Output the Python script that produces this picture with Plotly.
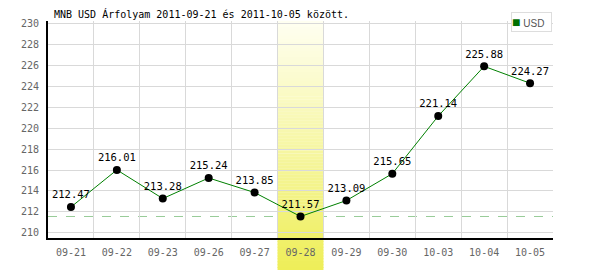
import plotly.graph_objects as go

# ---- data ----
dates = ["09-21", "09-22", "09-23", "09-26", "09-27", "09-28",
         "09-29", "09-30", "10-03", "10-04", "10-05"]
usd = [212.47, 216.01, 213.28, 215.24, 213.85, 211.57,
       213.09, 215.65, 221.14, 225.88, 224.27]
value_labels = [f"{v:.2f}" for v in usd]
highlight_date = "09-28"
series_name = "USD"
title_text = "MNB USD Árfolyam 2011-09-21 és 2011-10-05 között."
y_ticks = list(range(210, 231, 2))

# ---- layout geometry (pixels) ----
W, H = 600, 270
ML, MR, MT, MB = 48, 47, 21, 32
plot_h = H - MT - MB

fig = go.Figure()

fig.add_trace(go.Scatter(
    x=dates, y=usd, mode="lines+markers+text",
    text=value_labels, textposition="top center",
    textfont=dict(family="DejaVu Sans Mono", size=10.5, color="#000000"),
    line=dict(color="#008000", width=1),
    marker=dict(color="#000000", size=8),
    showlegend=False, cliponaxis=False,
))

shapes = []
# dashed minimum line
shapes.append(dict(type="line", xref="paper", x0=0, x1=1, yref="y",
                   y0=min(usd), y1=min(usd),
                   line=dict(color="#98cc98", width=1, dash="dash"),
                   layer="between"))

# gradient highlight band
hi = dates.index(highlight_date)
top_c = (255, 255, 242)
bot_c = (238, 238, 88)
def col(py):
    f = (py - MT) / (H - MT)
    f = max(0, min(1, f))
    c = [round(top_c[i] + (bot_c[i] - top_c[i]) * f) for i in range(3)]
    return f"rgb({c[0]},{c[1]},{c[2]})"

def to_paper(py):
    return (H - MB - py) / plot_h

n_in = 72
for k in range(n_in):
    p0 = MT + plot_h * k / n_in
    p1 = MT + plot_h * (k + 1) / n_in
    shapes.append(dict(type="rect", xref="x", x0=hi - 0.5, x1=hi + 0.5,
                       yref="paper", y0=to_paper(p1), y1=to_paper(p0) + 0.001,
                       fillcolor=col((p0 + p1) / 2), line=dict(width=0),
                       layer="between"))
n_out = 11
for k in range(n_out):
    p0 = H - MB + MB * k / n_out
    p1 = H - MB + MB * (k + 1) / n_out
    shapes.append(dict(type="rect", xref="x", x0=hi - 0.5, x1=hi + 0.5,
                       yref="paper", y0=to_paper(p1 + 1), y1=to_paper(p0),
                       fillcolor=col((p0 + p1) / 2), line=dict(width=0),
                       layer="below"))

annotations = [
    dict(text=title_text, xref="paper", yref="paper",
         x=0, xshift=4, xanchor="left",
         y=to_paper(14.5), yanchor="middle", showarrow=False,
         font=dict(family="DejaVu Sans Mono", size=10, color="#000000")),
    dict(text=f"<span style='color:#007000;font-size:14px'>■</span> {series_name}",
         xref="paper", yref="paper",
         x=(531.5 - ML) / (W - ML - MR), y=to_paper(21.7),
         xanchor="center", yanchor="middle", showarrow=False,
         width=39, height=18, align="left",
         bgcolor="#ffffff", bordercolor="#dddddd", borderwidth=1, borderpad=0,
         font=dict(family="Liberation Sans", size=10, color="#555555")),
]

fig.update_layout(
    width=W, height=H,
    margin=dict(l=ML, r=MR, t=MT, b=MB, pad=0),
    paper_bgcolor="#ffffff", plot_bgcolor="#ffffff",
    shapes=shapes, annotations=annotations,
    xaxis=dict(type="category", categoryorder="array", categoryarray=dates,
               range=[-0.5, len(dates) - 0.5], tickson="boundaries",
               showgrid=True, gridcolor="#d9d9d9", gridwidth=1,
               showline=True, linecolor="#000000", linewidth=2,
               ticks="", ticklabelstandoff=4,
               tickfont=dict(family="DejaVu Sans Mono", size=10, color="#666666"),
               fixedrange=True),
    yaxis=dict(range=[209.52, 230.2], tickvals=y_ticks,
               ticktext=[str(v) for v in y_ticks],
               showgrid=True, gridcolor="#d9d9d9", gridwidth=1, zeroline=False,
               showline=True, linecolor="#000000", linewidth=2,
               ticks="", ticklabelstandoff=5,
               tickfont=dict(family="DejaVu Sans Mono", size=10, color="#666666"),
               fixedrange=True),
)

fig.write_html("out.html", config={"displayModeBar": False})
